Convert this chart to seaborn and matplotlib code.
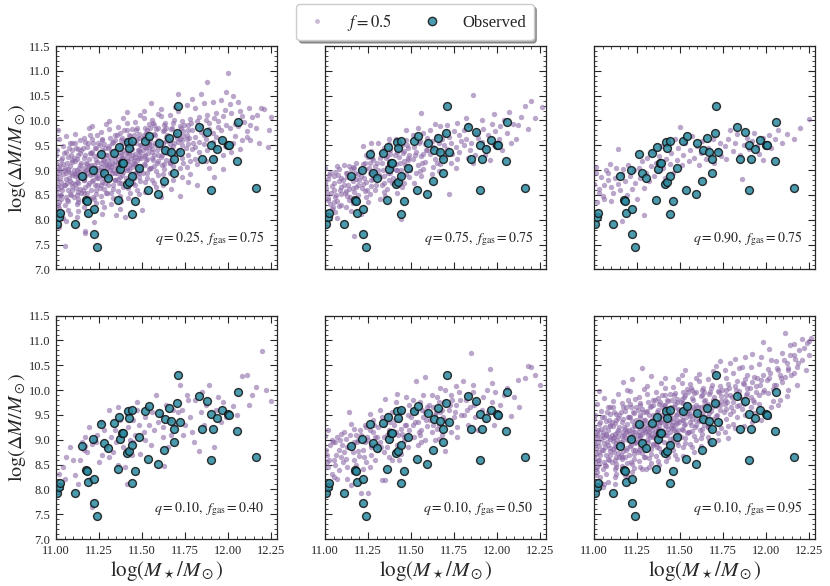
import numpy as np
import pandas as pd
import matplotlib
matplotlib.use("Agg")
import matplotlib.pyplot as plt
from matplotlib.lines import Line2D
from matplotlib.ticker import MultipleLocator, FormatStrFormatter
import seaborn as sns

# observed sample (same in every panel)
obs_x = [11.006, 11.020, 11.023, 11.109, 11.153, 11.176, 11.182, 11.186, 11.217, 11.223,
         11.219, 11.240, 11.262, 11.279, 11.304, 11.339, 11.368, 11.360, 11.374, 11.386,
         11.390, 11.417, 11.426, 11.444, 11.415, 11.426, 11.442, 11.459, 11.442, 11.483,
         11.517, 11.543, 11.535, 11.591, 11.597, 11.632, 11.626, 11.659, 11.671, 11.688,
         11.686, 11.705, 11.709, 11.721, 11.829, 11.849, 11.876, 11.901, 11.901, 11.911,
         11.938, 11.963, 11.998, 12.008, 12.052, 12.058, 12.165]
obs_y = [7.92, 8.05, 8.13, 7.92, 8.875, 8.39, 8.37, 8.14, 9.01, 8.21,
         7.72, 7.455, 9.32, 8.94, 8.84, 9.34, 9.46, 8.40, 9.015, 9.14,
         9.14, 9.57, 9.44, 9.59, 8.73, 8.77, 8.89, 8.37, 8.12, 9.05,
         9.58, 9.68, 8.61, 8.51, 9.54, 9.41, 8.79, 9.64, 9.37, 9.22,
         8.95, 9.74, 10.30, 9.36, 9.87, 9.22, 9.77, 8.60, 9.51, 9.22,
         9.43, 9.60, 9.51, 9.50, 9.18, 9.97, 8.65]

# simulated points
sim_q025_fgas075 = [
    (11.01, 8.62), (11.02, 8.95), (11.00, 9.31), (11.03, 8.41), (11.04, 9.12), (11.01, 8.18), (11.02, 7.86), (11.03, 8.77),
    (11.04, 9.48), (11.00, 8.55), (11.02, 9.05), (11.01, 8.30), (11.03, 9.21), (11.04, 8.03), (11.00, 8.88), (11.02, 9.62),
    (11.01, 8.71), (11.03, 8.49), (11.04, 8.92), (11.01, 9.80), (11.02, 8.24), (11.00, 9.15), (11.03, 8.66), (11.05, 7.47),
    (11.06, 8.83), (11.07, 9.02), (11.08, 8.51), (11.06, 9.36), (11.09, 8.68), (11.07, 8.20), (11.08, 9.55), (11.06, 8.95),
    (11.09, 9.17), (11.07, 8.37), (11.08, 8.79), (11.06, 7.98), (11.09, 9.41), (11.07, 8.60), (11.08, 9.09), (11.06, 8.46),
    (11.09, 8.91), (11.07, 9.27), (11.08, 8.12), (11.06, 9.68), (11.09, 8.74), (11.07, 8.99),
    (11.11, 8.88), (11.12, 9.23), (11.13, 8.56), (11.11, 9.73), (11.14, 8.97), (11.12, 8.31), (11.13, 9.42), (11.11, 8.72),
    (11.14, 9.10), (11.12, 8.05), (11.13, 8.84), (11.11, 9.55), (11.14, 8.63), (11.12, 9.01), (11.13, 8.42), (11.11, 9.18),
    (11.14, 9.34), (11.12, 8.77), (11.13, 8.18), (11.11, 8.93), (11.14, 9.61), (11.12, 8.50),
    (11.16, 9.05), (11.17, 8.67), (11.18, 9.47), (11.16, 8.38), (11.19, 9.22), (11.17, 8.89), (11.18, 8.11), (11.16, 9.64),
    (11.19, 8.74), (11.17, 9.31), (11.18, 8.55), (11.16, 8.97), (11.19, 9.85), (11.17, 7.78), (11.18, 9.12), (11.16, 8.81),
    (11.19, 8.44), (11.17, 9.56), (11.18, 8.95), (11.16, 8.26), (11.19, 9.08), (11.17, 7.74),
    (11.21, 8.93), (11.22, 9.28), (11.23, 8.61), (11.21, 9.62), (11.24, 9.05), (11.22, 8.42), (11.23, 9.44), (11.21, 8.78),
    (11.24, 9.17), (11.22, 8.19), (11.23, 8.88), (11.21, 9.88), (11.24, 8.70), (11.22, 9.11), (11.23, 8.52), (11.21, 9.36),
    (11.24, 9.71), (11.22, 8.97), (11.23, 8.33), (11.21, 9.02), (11.24, 8.84), (11.22, 7.95),
    (11.26, 9.14), (11.27, 8.76), (11.28, 9.52), (11.26, 8.47), (11.29, 9.30), (11.27, 8.99), (11.28, 8.26), (11.26, 9.76),
    (11.29, 8.87), (11.27, 9.40), (11.28, 8.63), (11.26, 9.06), (11.29, 9.92), (11.27, 8.35), (11.28, 9.21), (11.26, 8.91),
    (11.29, 8.55), (11.27, 9.63), (11.28, 9.01), (11.26, 8.70), (11.29, 9.12), (11.27, 8.12),
    (11.31, 9.08), (11.32, 9.39), (11.33, 8.71), (11.31, 9.82), (11.34, 9.18), (11.32, 8.53), (11.33, 9.57), (11.31, 8.89),
    (11.34, 9.29), (11.32, 8.32), (11.33, 9.00), (11.31, 9.99), (11.34, 8.81), (11.32, 9.24), (11.33, 8.62), (11.31, 9.48),
    (11.34, 9.70), (11.32, 9.06), (11.33, 8.43), (11.31, 9.13), (11.34, 8.95), (11.35, 8.09),
    (11.36, 9.22), (11.37, 8.86), (11.38, 9.61), (11.36, 8.58), (11.39, 9.40), (11.37, 9.09), (11.38, 8.38), (11.36, 9.86),
    (11.39, 8.97), (11.37, 9.50), (11.38, 8.74), (11.36, 9.15), (11.39, 10.05), (11.37, 8.47), (11.38, 9.30), (11.36, 9.01),
    (11.39, 8.66), (11.37, 9.74), (11.38, 9.12), (11.36, 8.82), (11.39, 9.25), (11.37, 8.21),
    (11.41, 9.19), (11.42, 9.52), (11.43, 8.83), (11.41, 9.94), (11.44, 9.31), (11.42, 8.64), (11.43, 9.68), (11.41, 9.00),
    (11.44, 9.42), (11.42, 8.44), (11.43, 9.11), (11.41, 10.18), (11.44, 8.92), (11.42, 9.36), (11.43, 8.72), (11.41, 9.60),
    (11.44, 9.82), (11.42, 9.18), (11.43, 8.55), (11.41, 9.27), (11.44, 9.06), (11.40, 8.05),
    (11.46, 9.33), (11.47, 8.97), (11.48, 9.72), (11.46, 8.70), (11.49, 9.51), (11.47, 9.20), (11.48, 8.51), (11.46, 9.97),
    (11.49, 9.09), (11.47, 9.62), (11.48, 8.86), (11.46, 9.26), (11.49, 10.12), (11.47, 8.60), (11.48, 9.41), (11.46, 9.13),
    (11.49, 8.79), (11.47, 9.84), (11.48, 9.24), (11.46, 8.94), (11.49, 9.37),
    (11.51, 9.29), (11.52, 9.63), (11.53, 8.94), (11.51, 10.05), (11.54, 9.44), (11.52, 8.76), (11.53, 9.80), (11.51, 9.12),
    (11.54, 9.53), (11.52, 8.57), (11.53, 9.22), (11.51, 10.20), (11.54, 9.03), (11.52, 9.47), (11.53, 8.84), (11.51, 9.71),
    (11.54, 9.92), (11.52, 9.30), (11.50, 8.20), (11.55, 10.35),
    (11.56, 9.42), (11.57, 9.08), (11.58, 9.83), (11.56, 8.81), (11.59, 9.60), (11.57, 9.31), (11.58, 8.66), (11.56, 10.02),
    (11.59, 9.19), (11.57, 9.73), (11.58, 8.98), (11.56, 9.37), (11.59, 10.14), (11.57, 8.75), (11.58, 9.51), (11.56, 9.25),
    (11.59, 8.90), (11.57, 9.91),
    (11.61, 9.46), (11.62, 9.78), (11.63, 9.12), (11.61, 10.09), (11.64, 9.58), (11.62, 8.93), (11.63, 9.90), (11.61, 9.27),
    (11.64, 9.67), (11.62, 8.71), (11.63, 9.38), (11.61, 10.23), (11.64, 9.20), (11.62, 9.55), (11.63, 9.02), (11.61, 8.45),
    (11.64, 9.85),
    (11.66, 9.52), (11.67, 9.21), (11.68, 9.94), (11.66, 8.95), (11.69, 9.70), (11.67, 9.43), (11.68, 8.80), (11.66, 10.12),
    (11.69, 9.32), (11.67, 9.82), (11.68, 9.09), (11.66, 9.61), (11.69, 10.28), (11.67, 8.62), (11.68, 9.48), (11.66, 9.15),
    (11.71, 9.57), (11.72, 9.89), (11.73, 9.25), (11.71, 10.20), (11.74, 9.68), (11.72, 9.04), (11.73, 9.99), (11.71, 9.38),
    (11.74, 9.78), (11.72, 8.47), (11.73, 9.50), (11.71, 10.54), (11.74, 9.14), (11.72, 9.62), (11.73, 8.87),
    (11.76, 9.62), (11.77, 9.31), (11.78, 10.03), (11.76, 9.06), (11.79, 9.80), (11.77, 9.52), (11.78, 8.93), (11.76, 10.31),
    (11.79, 9.42), (11.77, 9.91), (11.78, 9.18), (11.76, 9.70), (11.79, 10.44), (11.77, 8.76),
    (11.81, 9.66), (11.82, 9.98), (11.83, 9.36), (11.81, 10.25), (11.84, 9.77), (11.82, 9.13), (11.83, 10.08), (11.81, 9.47),
    (11.84, 9.88), (11.82, 8.70), (11.83, 9.57), (11.84, 10.54), (11.81, 9.22),
    (11.86, 9.71), (11.87, 10.02), (11.88, 9.40), (11.86, 10.36), (11.89, 9.83), (11.87, 9.18), (11.88, 10.12), (11.86, 9.52),
    (11.89, 9.95), (11.88, 10.77), (11.87, 9.62), (11.89, 9.05),
    (11.91, 9.75), (11.92, 10.06), (11.93, 9.44), (11.91, 10.37), (11.94, 9.86), (11.92, 9.25), (11.93, 10.16), (11.91, 9.56),
    (11.94, 9.98), (11.92, 8.87), (11.93, 9.66),
    (11.96, 9.80), (11.97, 10.10), (11.98, 9.48), (11.96, 10.42), (11.99, 9.90), (11.97, 9.30), (11.98, 10.21), (11.96, 9.61),
    (11.99, 10.57), (11.97, 9.02),
    (12.01, 9.84), (12.00, 10.96), (12.02, 10.15), (12.03, 9.55), (12.01, 10.33), (12.04, 9.93), (12.02, 9.36), (12.03, 10.50),
    (12.04, 9.68), (12.06, 9.88), (12.07, 10.20), (12.08, 9.60), (12.06, 10.38), (12.09, 9.97), (12.07, 9.42), (12.08, 10.10),
    (12.11, 9.67), (12.12, 10.25), (12.13, 9.90), (12.14, 10.07), (12.11, 9.78), (12.13, 9.61),
    (12.16, 9.85), (12.17, 10.12), (12.18, 9.55), (12.19, 10.25), (12.21, 10.23), (12.23, 9.47), (12.25, 10.08), (12.24, 9.80),
    # dense core
    (11.005, 8.80), (11.015, 9.00), (11.025, 8.50), (11.035, 9.25), (11.045, 8.70), (11.005, 9.40), (11.015, 8.35),
    (11.025, 9.10), (11.035, 8.60), (11.045, 9.00), (11.005, 8.45), (11.025, 8.85), (11.045, 9.35), (11.035, 8.15),
    (11.055, 8.70), (11.065, 9.15), (11.075, 8.85), (11.085, 9.30), (11.095, 8.60), (11.055, 9.05), (11.065, 8.40),
    (11.075, 9.45), (11.085, 8.95), (11.095, 9.20), (11.065, 8.75), (11.085, 8.50), (11.055, 8.30), (11.095, 9.55),
    (11.105, 9.00), (11.115, 8.65), (11.125, 9.30), (11.135, 8.90), (11.145, 9.15), (11.105, 8.45), (11.115, 9.45),
    (11.125, 8.75), (11.135, 9.05), (11.145, 8.55), (11.105, 9.25), (11.125, 8.35), (11.145, 9.40), (11.115, 8.95),
    (11.155, 8.85), (11.165, 9.25), (11.175, 9.00), (11.185, 8.70), (11.195, 9.35), (11.155, 9.45), (11.165, 8.55),
    (11.175, 9.15), (11.185, 9.55), (11.195, 8.90), (11.165, 8.80), (11.185, 9.05), (11.155, 8.60), (11.195, 9.70),
    (11.205, 9.10), (11.215, 8.80), (11.225, 9.45), (11.235, 8.95), (11.245, 9.30), (11.205, 8.60), (11.215, 9.55),
    (11.225, 8.70), (11.235, 9.20), (11.245, 8.85), (11.205, 9.35), (11.225, 9.05), (11.245, 9.55), (11.215, 8.45),
    (11.255, 9.00), (11.265, 9.35), (11.275, 8.85), (11.285, 9.45), (11.295, 9.05), (11.255, 8.65), (11.265, 9.60),
    (11.275, 9.20), (11.285, 8.75), (11.295, 9.30), (11.265, 8.95), (11.285, 9.10), (11.255, 9.50), (11.295, 8.55),
    (11.305, 9.20), (11.315, 8.85), (11.325, 9.55), (11.335, 9.10), (11.345, 9.40), (11.305, 8.70), (11.315, 9.65),
    (11.325, 8.95), (11.335, 9.30), (11.345, 8.80), (11.305, 9.45), (11.325, 9.15), (11.345, 9.60), (11.315, 9.00),
    (11.355, 9.05), (11.365, 9.45), (11.375, 9.20), (11.385, 8.90), (11.395, 9.55), (11.355, 9.70), (11.365, 8.75),
    (11.375, 9.35), (11.385, 9.65), (11.395, 9.10), (11.365, 9.00), (11.385, 9.25), (11.355, 8.95), (11.395, 9.80),
    (11.405, 9.35), (11.415, 9.05), (11.425, 9.70), (11.435, 9.25), (11.445, 9.55), (11.405, 8.85), (11.415, 9.80),
    (11.425, 9.00), (11.435, 9.45), (11.445, 9.15), (11.405, 9.60), (11.425, 9.35), (11.445, 8.75), (11.415, 9.50),
    (11.455, 9.20), (11.465, 9.55), (11.475, 9.05), (11.485, 9.65), (11.495, 9.25), (11.455, 8.85), (11.465, 9.80),
    (11.475, 9.40), (11.485, 8.95), (11.495, 9.50), (11.465, 9.10), (11.485, 9.30), (11.455, 9.70), (11.495, 9.00),
    (11.505, 9.40), (11.515, 9.10), (11.525, 9.75), (11.535, 9.35), (11.545, 9.60), (11.505, 8.95), (11.515, 9.85),
    (11.525, 9.20), (11.535, 9.55), (11.545, 9.05), (11.505, 9.65), (11.525, 9.45), (11.545, 9.85),
    (11.555, 9.50), (11.565, 9.20), (11.575, 9.70), (11.585, 9.40), (11.595, 9.85), (11.555, 9.05), (11.575, 9.55),
    (11.595, 9.30), (11.565, 9.95), (11.585, 9.15),
    (11.605, 9.55), (11.615, 9.30), (11.625, 9.80), (11.635, 9.45), (11.645, 9.70), (11.615, 9.10), (11.635, 9.95),
    (11.645, 9.35), (11.655, 9.60), (11.665, 9.35), (11.675, 9.85), (11.685, 9.55), (11.695, 9.75), (11.665, 9.15),
    (11.685, 10.00), (11.705, 9.65), (11.715, 9.40), (11.725, 9.85), (11.735, 9.60), (11.745, 9.90), (11.755, 9.45),
    (11.765, 9.80), (11.775, 9.65), (11.785, 9.95), (11.795, 9.55),
]

sim_q075_fgas075 = [
    (11.01, 8.55), (11.02, 8.83), (11.00, 9.05), (11.03, 8.32), (11.04, 8.68), (11.01, 8.12), (11.02, 8.44), (11.03, 8.95),
    (11.04, 8.21), (11.00, 8.74), (11.05, 8.60), (11.06, 8.97), (11.07, 8.38), (11.08, 8.79), (11.06, 8.15), (11.09, 8.52),
    (11.07, 9.08), (11.08, 8.27), (11.05, 8.89), (11.09, 8.66), (11.06, 8.46), (11.08, 9.02), (11.07, 8.03), (11.09, 8.85),
    (11.05, 8.36),
    (11.11, 8.71), (11.12, 8.95), (11.13, 8.48), (11.11, 9.10), (11.14, 8.62), (11.12, 8.25), (11.13, 8.86), (11.15, 9.02),
    (11.14, 8.40), (11.16, 8.78), (11.17, 8.57), (11.18, 9.15), (11.16, 8.33), (11.19, 8.92), (11.17, 9.04), (11.18, 8.66),
    (11.15, 8.18), (11.19, 8.49), (11.17, 7.67), (11.16, 9.06), (11.18, 8.82), (11.12, 8.58), (11.19, 8.70), (11.14, 9.08),
    (11.21, 8.88), (11.22, 9.12), (11.23, 8.59), (11.22, 9.49), (11.24, 8.76), (11.21, 8.12), (11.23, 9.02), (11.25, 9.27),
    (11.24, 8.45), (11.26, 8.94), (11.27, 8.68), (11.28, 9.20), (11.26, 8.51), (11.29, 9.08), (11.27, 9.38), (11.28, 8.83),
    (11.25, 8.35), (11.29, 8.61), (11.27, 9.55), (11.26, 9.15), (11.28, 8.99), (11.22, 8.73), (11.29, 8.90), (11.24, 9.31),
    (11.31, 9.00), (11.32, 9.25), (11.33, 8.70), (11.31, 9.55), (11.34, 8.88), (11.32, 8.42), (11.33, 9.14), (11.35, 9.40),
    (11.34, 8.56), (11.36, 9.06), (11.37, 8.80), (11.38, 9.33), (11.36, 8.62), (11.39, 9.19), (11.37, 9.52), (11.38, 8.95),
    (11.35, 8.48), (11.39, 8.74), (11.37, 9.62), (11.36, 9.28), (11.38, 9.10), (11.32, 8.86), (11.39, 9.02), (11.34, 9.45),
    (11.41, 9.12), (11.42, 9.36), (11.43, 8.82), (11.41, 9.62), (11.44, 9.00), (11.42, 8.54), (11.43, 9.26), (11.45, 9.50),
    (11.44, 8.02), (11.46, 9.18), (11.47, 8.92), (11.48, 9.44), (11.46, 8.74), (11.49, 9.30), (11.47, 9.81), (11.48, 9.06),
    (11.45, 8.66), (11.49, 8.86), (11.47, 9.60), (11.46, 9.38), (11.48, 9.21), (11.42, 9.00),
    (11.51, 9.22), (11.52, 9.46), (11.53, 8.95), (11.51, 9.70), (11.54, 9.10), (11.52, 8.75), (11.53, 9.36), (11.56, 10.16),
    (11.55, 9.58), (11.56, 9.28), (11.57, 9.02), (11.58, 9.52), (11.56, 8.88), (11.59, 9.40), (11.57, 9.75), (11.58, 9.16),
    (11.55, 8.98), (11.59, 9.64), (11.54, 9.85), (11.57, 9.33),
    (11.61, 9.32), (11.62, 9.58), (11.63, 9.06), (11.61, 9.80), (11.64, 9.22), (11.62, 8.92), (11.63, 9.46), (11.65, 9.68),
    (11.66, 9.38), (11.67, 9.12), (11.68, 9.62), (11.66, 8.98), (11.69, 9.50), (11.67, 9.88), (11.68, 9.26), (11.65, 9.15),
    (11.69, 9.72), (11.64, 9.92),
    (11.71, 9.42), (11.72, 9.66), (11.73, 9.15), (11.71, 9.90), (11.74, 9.32), (11.72, 8.52), (11.73, 9.55), (11.75, 9.78),
    (11.76, 9.46), (11.77, 9.22), (11.78, 9.70), (11.76, 9.05), (11.79, 9.58), (11.77, 9.95), (11.78, 9.36),
    (11.81, 9.50), (11.82, 10.06), (11.83, 9.25), (11.81, 9.80), (11.84, 9.40), (11.82, 9.62), (11.83, 9.90), (11.85, 9.55),
    (11.86, 10.51), (11.87, 9.30), (11.88, 9.75), (11.86, 9.14), (11.89, 9.65),
    (11.91, 9.56), (11.92, 9.82), (11.93, 9.30), (11.91, 10.00), (11.94, 9.45), (11.95, 9.70), (11.96, 9.20), (11.97, 9.92),
    (11.98, 10.14), (11.98, 9.50), (11.99, 9.78),
    (12.01, 9.62), (12.02, 9.88), (12.03, 9.40), (12.04, 10.02), (12.06, 9.75), (12.07, 10.17), (12.08, 9.55), (12.09, 9.92),
    (12.11, 9.63), (12.12, 9.90), (12.14, 10.08), (12.16, 10.30), (12.18, 9.82), (12.20, 10.40), (12.22, 10.05), (12.26, 10.28),
    (11.005, 8.65), (11.015, 8.40), (11.025, 8.90), (11.035, 8.55), (11.045, 8.25), (11.055, 8.75), (11.065, 8.50),
    (11.075, 8.90), (11.085, 8.60), (11.095, 8.30), (11.105, 8.80), (11.115, 8.55), (11.125, 8.95), (11.135, 8.70),
    (11.145, 8.45), (11.155, 8.85), (11.165, 8.65), (11.175, 8.95), (11.185, 8.40), (11.195, 8.80), (11.205, 9.00),
    (11.215, 8.65), (11.225, 8.85), (11.235, 9.15), (11.245, 8.60), (11.255, 9.05), (11.265, 8.80), (11.275, 9.25),
    (11.285, 8.95), (11.295, 8.70), (11.305, 9.15), (11.315, 8.90), (11.325, 9.35), (11.335, 9.00), (11.345, 8.75),
    (11.355, 9.25), (11.365, 8.95), (11.375, 9.40), (11.385, 9.05), (11.395, 8.85), (11.405, 9.30), (11.415, 9.00),
    (11.425, 9.45), (11.435, 9.15), (11.445, 8.90), (11.455, 9.35), (11.465, 9.10), (11.475, 9.50), (11.485, 9.25),
    (11.495, 9.00), (11.525, 9.30), (11.545, 9.55), (11.565, 9.15), (11.585, 9.40), (11.625, 9.45), (11.665, 9.55),
    (11.705, 9.30),
]

sim_q090_fgas075 = [
    (11.01, 9.06), (11.00, 8.72), (11.02, 8.36), (11.03, 8.55), (11.04, 8.86), (11.01, 8.95), (11.05, 8.48), (11.06, 8.70),
    (11.07, 9.00), (11.03, 8.62), (11.08, 8.80), (11.09, 9.13), (11.06, 8.42), (11.10, 8.66), (11.08, 8.95), (11.11, 8.55),
    (11.12, 8.85), (11.13, 9.05), (11.10, 8.38), (11.14, 9.43), (11.14, 8.72), (11.15, 8.60), (11.16, 7.97), (11.16, 8.92),
    (11.17, 9.02), (11.18, 8.78), (11.19, 8.50), (11.20, 9.10), (11.21, 8.88), (11.22, 8.62), (11.23, 9.00), (11.24, 8.75),
    (11.25, 8.42), (11.26, 9.05), (11.27, 8.85), (11.28, 9.18), (11.29, 8.09), (11.29, 8.65), (11.30, 8.95), (11.31, 9.25),
    (11.32, 8.78), (11.33, 9.08), (11.34, 9.38), (11.35, 8.88), (11.36, 9.15), (11.37, 8.98), (11.38, 9.28), (11.39, 9.48),
    (11.40, 9.05), (11.41, 8.85), (11.42, 9.22), (11.43, 9.55), (11.44, 9.12), (11.45, 9.35), (11.46, 8.95), (11.47, 9.62),
    (11.48, 9.20), (11.49, 9.45), (11.50, 9.87), (11.51, 9.10), (11.52, 9.30), (11.53, 9.55), (11.55, 9.18), (11.56, 9.40),
    (11.57, 9.68), (11.58, 9.25), (11.60, 9.48), (11.61, 9.10), (11.62, 9.35), (11.63, 9.58), (11.65, 9.22), (11.66, 9.45),
    (11.68, 9.30), (11.69, 9.62), (11.70, 9.15), (11.72, 9.40), (11.73, 9.55), (11.74, 9.28), (11.76, 9.48), (11.77, 9.22),
    (11.78, 9.62), (11.79, 9.80), (11.81, 9.38), (11.82, 9.55), (11.83, 9.72), (11.85, 9.30), (11.86, 8.83), (11.87, 9.50),
    (11.89, 9.65), (11.90, 9.42), (11.92, 9.58), (11.93, 9.75), (11.95, 9.48), (11.96, 9.32), (11.98, 9.20), (11.98, 9.65),
    (12.00, 9.52), (12.02, 9.70), (12.03, 9.45), (12.05, 9.63), (12.07, 9.80), (12.09, 9.55), (12.12, 9.72), (12.16, 9.62),
    (12.20, 9.85), (12.25, 10.04),
]

sim_q010_fgas040 = [
    (11.00, 8.10), (11.01, 7.95), (11.02, 8.30), (11.03, 8.10), (11.04, 8.45), (11.06, 8.65), (11.08, 8.85), (11.05, 8.20),
    (11.11, 8.29), (11.10, 8.60), (11.14, 8.59), (11.17, 9.06), (11.19, 9.26), (11.17, 8.87), (11.21, 8.91), (11.15, 8.95),
    (11.13, 8.10), (11.18, 8.75), (11.20, 8.20), (11.16, 8.80), (11.22, 9.00), (11.23, 8.95), (11.24, 9.10), (11.25, 8.55),
    (11.26, 9.35), (11.27, 8.70), (11.28, 9.20), (11.29, 8.85), (11.21, 7.64), (11.31, 9.59), (11.36, 9.66), (11.32, 9.05),
    (11.33, 8.75), (11.34, 9.20), (11.35, 8.95), (11.37, 9.40), (11.38, 9.15), (11.39, 8.85), (11.31, 8.65), (11.36, 8.50),
    (11.41, 9.52), (11.40, 8.45), (11.42, 9.25), (11.43, 9.00), (11.44, 8.70), (11.45, 9.40), (11.46, 9.10), (11.47, 9.60),
    (11.48, 9.30), (11.49, 8.72), (11.41, 8.10), (11.45, 8.95), (11.47, 9.75), (11.51, 9.15), (11.52, 9.45), (11.53, 9.65),
    (11.54, 9.30), (11.55, 8.90), (11.56, 9.55), (11.57, 9.20), (11.58, 9.90), (11.59, 9.35), (11.52, 9.00), (11.61, 9.50),
    (11.62, 9.25), (11.63, 8.48), (11.64, 9.70), (11.65, 8.85), (11.66, 9.40), (11.67, 9.10), (11.68, 9.60), (11.69, 9.30),
    (11.62, 9.05), (11.72, 10.10), (11.74, 9.09), (11.76, 9.89), (11.77, 9.80), (11.78, 9.45), (11.73, 9.60), (11.75, 9.30),
    (11.79, 9.15), (11.71, 9.55), (11.81, 9.79), (11.80, 8.95), (11.83, 8.77), (11.84, 9.55), (11.86, 9.30), (11.89, 10.11),
    (11.87, 9.70), (11.85, 9.95), (11.92, 8.85), (11.94, 9.85), (11.99, 9.46), (11.93, 9.60), (11.96, 9.35), (11.97, 9.75),
    (12.03, 9.67), (12.08, 10.28), (12.11, 10.31), (12.12, 9.69), (12.16, 10.06), (12.20, 10.78), (12.25, 9.77), (12.05, 9.50),
    (12.14, 9.90), (12.22, 10.00),
]

sim_q010_fgas050 = [
    (11.00, 9.08), (11.01, 8.70), (11.02, 8.45), (11.03, 8.90), (11.04, 8.30), (11.02, 9.20), (11.05, 8.60), (11.06, 8.95),
    (11.07, 8.20), (11.05, 8.25), (11.08, 8.80), (11.09, 9.12), (11.06, 8.50), (11.08, 8.38), (11.09, 8.66), (11.07, 9.05),
    (11.03, 8.12), (11.04, 9.00), (11.01, 8.55), (11.10, 8.90),
    (11.11, 8.75), (11.12, 9.02), (11.13, 8.45), (11.14, 9.55), (11.15, 9.32), (11.13, 8.20), (11.16, 8.90), (11.17, 8.60),
    (11.18, 9.10), (11.16, 8.35), (11.19, 8.78), (11.17, 9.22), (11.18, 8.50), (11.19, 9.00), (11.12, 8.62), (11.15, 8.08),
    (11.14, 8.85), (11.11, 9.15), (11.20, 8.68), (11.17, 8.95),
    (11.21, 9.10), (11.22, 8.80), (11.23, 9.30), (11.21, 7.92), (11.25, 7.92), (11.24, 8.55), (11.23, 8.95), (11.26, 9.20),
    (11.27, 8.70), (11.28, 9.40), (11.26, 8.45), (11.29, 9.05), (11.27, 8.85), (11.28, 9.15), (11.25, 9.00), (11.29, 8.60),
    (11.22, 8.40), (11.24, 9.25), (11.30, 8.90), (11.26, 9.52),
    (11.31, 9.25), (11.32, 8.95), (11.33, 9.45), (11.33, 8.18), (11.35, 8.18), (11.35, 9.82), (11.34, 8.75), (11.36, 9.10),
    (11.37, 8.65), (11.38, 9.35), (11.36, 8.85), (11.39, 9.55), (11.37, 9.20), (11.38, 9.00), (11.31, 8.80), (11.39, 8.60),
    (11.32, 9.60), (11.34, 9.05), (11.40, 9.30), (11.36, 9.42),
    (11.42, 9.92), (11.41, 9.15), (11.42, 8.90), (11.43, 9.40), (11.44, 8.72), (11.45, 9.60), (11.46, 9.05), (11.47, 9.30),
    (11.48, 8.85), (11.49, 9.70), (11.47, 9.85), (11.46, 8.98), (11.44, 9.22), (11.48, 9.50), (11.41, 9.75), (11.43, 8.60),
    (11.45, 9.12), (11.49, 9.20), (11.50, 9.45),
    (11.53, 10.18), (11.58, 10.26), (11.51, 9.30), (11.52, 9.05), (11.53, 9.55), (11.54, 8.90), (11.55, 9.75), (11.56, 9.20),
    (11.57, 9.45), (11.58, 9.00), (11.59, 9.65), (11.57, 9.90), (11.56, 8.95), (11.54, 9.35), (11.58, 9.55), (11.51, 9.80),
    (11.55, 9.10), (11.59, 9.28),
    (11.61, 9.40), (11.62, 9.15), (11.63, 9.65), (11.64, 9.00), (11.65, 9.85), (11.66, 9.30), (11.67, 9.55), (11.68, 9.10),
    (11.69, 9.75), (11.67, 10.05), (11.66, 9.02), (11.64, 9.50), (11.68, 9.60), (11.62, 9.90), (11.65, 9.22), (11.69, 9.40),
    (11.70, 10.00), (11.70, 8.78), (11.71, 9.35), (11.72, 9.60), (11.73, 9.15), (11.74, 9.80), (11.75, 9.45), (11.76, 9.70),
    (11.77, 9.25), (11.78, 9.95), (11.79, 9.50), (11.77, 9.05), (11.73, 9.90), (11.76, 10.08),
    (11.85, 10.75), (11.80, 10.19), (11.81, 9.50), (11.82, 9.80), (11.83, 9.30), (11.84, 9.65), (11.86, 9.95), (11.87, 9.45),
    (11.88, 9.75), (11.89, 9.20), (11.86, 10.10), (11.83, 9.90),
    (11.96, 10.42), (11.91, 9.60), (11.92, 9.85), (11.93, 9.40), (11.94, 10.00), (11.95, 9.55), (11.97, 9.75), (11.98, 9.30),
    (11.99, 9.95), (11.97, 10.15),
    (12.08, 9.48), (12.13, 9.65), (12.12, 10.20), (12.16, 10.24), (12.18, 10.49), (12.20, 10.47), (12.02, 9.70), (12.04, 9.90),
    (12.06, 10.05), (12.10, 9.85), (12.22, 10.30), (12.25, 10.10), (12.01, 9.45),
    (11.005, 8.80), (11.025, 8.60), (11.045, 8.95), (11.065, 8.70), (11.085, 9.00), (11.105, 8.55), (11.125, 8.85),
    (11.145, 9.10), (11.165, 8.75), (11.185, 8.95), (11.205, 9.20), (11.225, 8.65), (11.245, 9.05), (11.265, 8.90),
    (11.285, 9.30), (11.305, 9.05), (11.325, 8.85), (11.345, 9.30), (11.365, 9.50), (11.385, 9.15), (11.405, 9.40),
    (11.425, 9.10), (11.445, 9.55), (11.465, 9.30), (11.485, 9.05), (11.505, 9.60), (11.525, 9.35), (11.545, 9.15),
    (11.565, 9.60), (11.585, 9.40), (11.605, 9.70), (11.625, 9.30), (11.645, 9.55), (11.665, 9.75), (11.685, 9.45),
    (11.725, 9.70), (11.755, 9.55), (11.785, 9.80), (11.825, 9.60), (11.865, 9.70),
]

sim_q010_fgas095 = [
    (11.01, 8.72), (11.02, 9.05), (11.00, 9.41), (11.03, 8.51), (11.04, 9.22), (11.01, 8.28), (11.02, 8.06), (11.03, 8.87),
    (11.04, 9.58), (11.00, 8.65), (11.02, 9.15), (11.01, 8.40), (11.03, 9.31), (11.04, 8.13), (11.00, 8.98), (11.02, 9.72),
    (11.01, 8.81), (11.03, 8.59), (11.04, 9.02), (11.03, 9.98), (11.02, 8.34), (11.00, 9.25), (11.03, 8.76), (11.05, 8.05),
    (11.06, 8.93), (11.07, 9.12), (11.08, 8.61), (11.06, 9.46), (11.09, 8.78), (11.07, 8.30), (11.08, 9.65), (11.06, 9.05),
    (11.09, 9.27), (11.07, 8.47), (11.08, 8.89), (11.06, 8.10), (11.09, 9.51), (11.07, 8.70), (11.08, 9.19), (11.06, 8.56),
    (11.09, 9.01), (11.07, 9.37), (11.08, 8.15), (11.06, 9.83), (11.09, 8.84), (11.07, 9.09),
    (11.11, 8.98), (11.12, 9.33), (11.13, 8.66), (11.11, 9.78), (11.14, 9.07), (11.12, 8.41), (11.13, 9.52), (11.11, 8.82),
    (11.14, 9.20), (11.12, 8.25), (11.13, 8.94), (11.11, 9.65), (11.14, 8.73), (11.12, 9.11), (11.13, 8.52), (11.11, 9.28),
    (11.14, 9.44), (11.12, 8.87), (11.13, 8.31), (11.11, 9.03), (11.14, 9.92), (11.12, 8.60), (11.12, 8.10),
    (11.16, 9.15), (11.17, 8.77), (11.18, 9.57), (11.16, 8.48), (11.19, 9.32), (11.17, 8.99), (11.18, 8.28), (11.16, 9.74),
    (11.19, 8.84), (11.17, 9.41), (11.18, 8.65), (11.16, 9.07), (11.19, 10.01), (11.17, 8.35), (11.18, 9.22), (11.16, 8.91),
    (11.19, 8.54), (11.17, 9.66), (11.18, 9.05), (11.16, 8.62), (11.19, 9.18), (11.17, 10.17),
    (11.21, 9.03), (11.22, 9.38), (11.23, 8.71), (11.21, 9.72), (11.24, 9.15), (11.22, 8.52), (11.23, 9.54), (11.21, 8.88),
    (11.24, 9.27), (11.22, 8.34), (11.23, 8.98), (11.21, 9.98), (11.24, 8.80), (11.22, 9.21), (11.23, 8.62), (11.21, 9.46),
    (11.24, 9.81), (11.22, 9.07), (11.23, 8.43), (11.21, 9.12), (11.24, 8.94), (11.22, 10.22), (11.20, 8.25),
    (11.26, 9.24), (11.27, 8.86), (11.28, 9.62), (11.26, 8.57), (11.29, 9.40), (11.27, 9.09), (11.28, 8.40), (11.26, 9.86),
    (11.29, 8.97), (11.27, 9.50), (11.28, 8.73), (11.26, 9.16), (11.29, 10.02), (11.27, 8.45), (11.28, 9.31), (11.26, 9.01),
    (11.29, 8.65), (11.27, 9.73), (11.28, 9.11), (11.26, 8.80), (11.29, 9.22), (11.28, 10.44),
    (11.31, 9.18), (11.32, 9.49), (11.33, 8.81), (11.31, 9.92), (11.34, 9.28), (11.32, 8.63), (11.33, 9.67), (11.31, 8.99),
    (11.34, 9.39), (11.32, 8.45), (11.33, 9.10), (11.31, 10.09), (11.34, 8.91), (11.32, 9.34), (11.33, 8.72), (11.31, 9.58),
    (11.34, 9.80), (11.32, 9.16), (11.33, 8.53), (11.31, 9.23), (11.34, 9.05), (11.33, 10.28), (11.30, 8.40),
    (11.36, 9.32), (11.37, 8.96), (11.38, 9.71), (11.36, 8.68), (11.39, 9.50), (11.37, 9.19), (11.38, 8.50), (11.36, 9.96),
    (11.39, 9.07), (11.37, 9.60), (11.38, 8.84), (11.36, 9.25), (11.39, 10.15), (11.37, 8.57), (11.38, 9.40), (11.36, 9.11),
    (11.39, 8.76), (11.37, 9.84), (11.38, 9.22), (11.36, 8.92), (11.39, 9.35),
    (11.41, 9.29), (11.42, 9.62), (11.43, 8.93), (11.41, 10.04), (11.44, 9.41), (11.42, 8.74), (11.43, 9.78), (11.41, 9.10),
    (11.44, 9.52), (11.42, 8.58), (11.43, 9.21), (11.41, 10.24), (11.44, 9.02), (11.42, 9.46), (11.43, 8.82), (11.41, 9.70),
    (11.44, 9.92), (11.42, 9.28), (11.43, 8.66), (11.41, 9.37), (11.44, 9.16),
    (11.46, 9.43), (11.47, 9.07), (11.48, 9.82), (11.46, 8.80), (11.49, 9.61), (11.47, 9.30), (11.48, 8.62), (11.46, 10.07),
    (11.49, 9.19), (11.47, 9.72), (11.48, 8.96), (11.46, 9.36), (11.49, 10.22), (11.47, 8.70), (11.48, 9.51), (11.46, 9.23),
    (11.49, 8.89), (11.47, 9.94), (11.48, 9.34), (11.46, 9.04),
    (11.51, 9.39), (11.52, 9.73), (11.53, 9.04), (11.51, 10.15), (11.54, 9.54), (11.52, 8.86), (11.53, 9.90), (11.51, 9.22),
    (11.54, 9.63), (11.52, 8.68), (11.53, 9.32), (11.51, 10.30), (11.54, 9.13), (11.52, 9.57), (11.53, 8.94), (11.51, 9.81),
    (11.54, 10.02), (11.52, 9.40), (11.53, 10.40),
    (11.56, 9.52), (11.57, 9.18), (11.58, 9.93), (11.56, 8.91), (11.59, 9.70), (11.57, 9.41), (11.58, 8.76), (11.56, 10.12),
    (11.59, 9.29), (11.57, 9.83), (11.58, 9.08), (11.56, 9.47), (11.59, 10.24), (11.57, 8.85), (11.58, 9.61), (11.56, 9.35),
    (11.59, 9.00), (11.57, 10.01),
    (11.61, 9.56), (11.62, 9.88), (11.63, 9.22), (11.61, 10.19), (11.64, 9.68), (11.62, 9.03), (11.63, 10.00), (11.61, 9.37),
    (11.64, 9.77), (11.62, 8.88), (11.63, 9.48), (11.61, 10.33), (11.64, 9.30), (11.62, 9.65), (11.63, 9.12), (11.64, 9.95),
    (11.66, 9.62), (11.67, 9.31), (11.68, 10.04), (11.66, 9.05), (11.69, 9.80), (11.67, 9.53), (11.68, 8.92), (11.66, 10.22),
    (11.69, 9.42), (11.67, 9.92), (11.68, 9.19), (11.66, 9.71), (11.69, 10.38), (11.67, 8.98), (11.68, 9.58), (11.66, 9.25),
    (11.71, 9.67), (11.72, 9.99), (11.73, 9.35), (11.71, 10.30), (11.74, 9.78), (11.72, 9.14), (11.73, 10.09), (11.71, 9.48),
    (11.74, 9.88), (11.72, 9.00), (11.73, 9.60), (11.71, 10.48), (11.74, 9.24), (11.72, 9.72), (11.73, 10.58),
    (11.76, 9.72), (11.77, 9.41), (11.78, 10.13), (11.76, 9.16), (11.79, 9.90), (11.77, 9.62), (11.78, 9.03), (11.76, 10.41),
    (11.79, 9.52), (11.77, 10.01), (11.78, 9.28), (11.76, 9.80), (11.79, 10.54), (11.77, 10.24),
    (11.81, 9.76), (11.82, 10.08), (11.83, 9.46), (11.81, 10.35), (11.84, 9.87), (11.82, 9.23), (11.83, 10.18), (11.81, 9.57),
    (11.84, 9.98), (11.82, 10.62), (11.83, 9.67), (11.84, 10.45), (11.81, 9.32),
    (11.86, 9.81), (11.87, 10.12), (11.88, 9.50), (11.86, 10.46), (11.89, 9.93), (11.87, 9.28), (11.88, 10.22), (11.86, 9.62),
    (11.89, 10.05), (11.88, 10.67), (11.87, 9.72), (11.89, 10.30),
    (11.91, 9.85), (11.92, 10.16), (11.93, 9.54), (11.91, 10.47), (11.94, 9.96), (11.92, 9.35), (11.93, 10.26), (11.91, 9.66),
    (11.94, 10.08), (11.92, 10.72), (11.93, 9.76),
    (11.96, 9.90), (11.97, 10.20), (11.98, 9.58), (11.96, 10.52), (11.99, 10.00), (11.97, 9.40), (11.98, 10.31), (11.96, 9.71),
    (11.98, 10.97), (11.97, 10.66),
    (12.01, 9.94), (12.02, 10.25), (12.03, 9.65), (12.01, 10.43), (12.04, 10.03), (12.02, 9.46), (12.03, 10.60), (12.04, 9.78),
    (12.02, 10.82), (12.06, 10.10), (12.07, 10.40), (12.08, 9.80), (12.06, 10.58), (12.09, 10.17), (12.07, 9.70), (12.08, 10.30),
    (12.09, 10.75), (12.11, 10.27), (12.11, 11.15), (12.12, 10.55), (12.13, 10.00), (12.14, 10.71), (12.12, 9.88), (12.13, 10.40),
    (12.14, 10.90), (12.16, 10.35), (12.16, 10.92), (12.17, 10.62), (12.18, 10.10), (12.19, 10.80), (12.18, 10.47),
    (12.21, 10.60), (12.21, 11.02), (12.22, 10.85), (12.23, 10.40), (12.24, 10.95), (12.25, 10.70), (12.26, 11.04), (12.25, 10.98),
    # dense core
    (11.005, 8.90), (11.015, 9.10), (11.025, 8.60), (11.035, 9.35), (11.045, 8.80), (11.005, 9.50), (11.015, 8.45),
    (11.025, 9.20), (11.035, 8.70), (11.045, 9.10), (11.005, 8.55), (11.025, 8.95), (11.045, 9.45), (11.035, 8.25),
    (11.055, 8.80), (11.065, 9.25), (11.075, 8.95), (11.085, 9.40), (11.095, 8.70), (11.055, 9.15), (11.065, 8.50),
    (11.075, 9.55), (11.085, 9.05), (11.095, 9.30), (11.065, 8.85), (11.085, 8.60), (11.055, 8.40), (11.095, 9.65),
    (11.105, 9.10), (11.115, 8.75), (11.125, 9.40), (11.135, 9.00), (11.145, 9.25), (11.105, 8.55), (11.115, 9.55),
    (11.125, 8.85), (11.135, 9.15), (11.145, 8.65), (11.105, 9.35), (11.125, 8.45), (11.145, 9.50), (11.115, 9.05),
    (11.155, 8.95), (11.165, 9.35), (11.175, 9.10), (11.185, 8.80), (11.195, 9.45), (11.155, 9.55), (11.165, 8.65),
    (11.175, 9.25), (11.185, 9.65), (11.195, 9.00), (11.165, 8.90), (11.185, 9.15), (11.155, 8.70), (11.195, 9.80),
    (11.205, 9.20), (11.215, 8.90), (11.225, 9.55), (11.235, 9.05), (11.245, 9.40), (11.205, 8.70), (11.215, 9.65),
    (11.225, 8.80), (11.235, 9.30), (11.245, 8.95), (11.205, 9.45), (11.225, 9.15), (11.245, 9.65), (11.215, 8.55),
    (11.255, 9.10), (11.265, 9.45), (11.275, 8.95), (11.285, 9.55), (11.295, 9.15), (11.255, 8.75), (11.265, 9.70),
    (11.275, 9.30), (11.285, 8.85), (11.295, 9.40), (11.265, 9.05), (11.285, 9.20), (11.255, 9.60), (11.295, 8.65),
    (11.305, 9.30), (11.315, 8.95), (11.325, 9.65), (11.335, 9.20), (11.345, 9.50), (11.305, 8.80), (11.315, 9.75),
    (11.325, 9.05), (11.335, 9.40), (11.345, 8.90), (11.305, 9.55), (11.325, 9.25), (11.345, 9.70), (11.315, 9.10),
    (11.355, 9.15), (11.365, 9.55), (11.375, 9.30), (11.385, 9.00), (11.395, 9.65), (11.355, 9.80), (11.365, 8.85),
    (11.375, 9.45), (11.385, 9.75), (11.395, 9.20), (11.365, 9.10), (11.385, 9.35), (11.355, 9.05), (11.395, 9.90),
    (11.405, 9.45), (11.415, 9.15), (11.425, 9.80), (11.435, 9.35), (11.445, 9.65), (11.405, 8.95), (11.415, 9.90),
    (11.425, 9.10), (11.435, 9.55), (11.445, 9.25), (11.405, 9.70), (11.425, 9.45), (11.445, 8.85), (11.415, 9.60),
    (11.455, 9.30), (11.465, 9.65), (11.475, 9.15), (11.485, 9.75), (11.495, 9.35), (11.455, 8.95), (11.465, 9.90),
    (11.475, 9.50), (11.485, 9.05), (11.495, 9.60), (11.465, 9.20), (11.485, 9.40), (11.455, 9.80), (11.495, 9.10),
    (11.505, 9.50), (11.515, 9.20), (11.525, 9.85), (11.535, 9.45), (11.545, 9.70), (11.505, 9.05), (11.515, 9.95),
    (11.525, 9.30), (11.535, 9.65), (11.545, 9.15), (11.505, 9.75), (11.525, 9.55), (11.545, 9.95),
    (11.555, 9.60), (11.565, 9.30), (11.575, 9.80), (11.585, 9.50), (11.595, 9.95), (11.555, 9.15), (11.575, 9.65),
    (11.595, 9.40), (11.565, 10.05), (11.585, 9.25),
    (11.605, 9.65), (11.615, 9.40), (11.625, 9.90), (11.635, 9.55), (11.645, 9.80), (11.615, 9.20), (11.635, 10.05),
    (11.645, 9.45), (11.655, 9.70), (11.665, 9.45), (11.675, 9.95), (11.685, 9.65), (11.695, 9.85), (11.665, 9.25),
    (11.685, 10.10), (11.705, 9.75), (11.715, 9.50), (11.725, 9.95), (11.735, 9.70), (11.745, 10.00), (11.755, 9.55),
    (11.765, 9.90), (11.775, 9.75), (11.785, 10.05), (11.795, 9.65),
    (11.805, 9.85), (11.825, 10.00), (11.845, 9.70), (11.865, 10.15), (11.885, 9.90), (11.905, 10.05), (11.925, 9.80),
    (11.945, 10.25), (11.965, 10.10), (11.985, 9.95), (12.005, 10.20), (12.025, 10.35), (12.045, 10.10), (12.065, 10.45),
    (12.085, 10.25), (12.105, 10.60), (12.125, 10.45), (12.145, 10.30), (12.165, 10.70), (12.185, 10.55),
]

panel_sims = [sim_q025_fgas075, sim_q075_fgas075, sim_q090_fgas075,
              sim_q010_fgas040, sim_q010_fgas050, sim_q010_fgas095]
panel_labels = [r"$q=0.25,\ f_{\rm gas}=0.75$", r"$q=0.75,\ f_{\rm gas}=0.75$",
                r"$q=0.90,\ f_{\rm gas}=0.75$", r"$q=0.10,\ f_{\rm gas}=0.40$",
                r"$q=0.10,\ f_{\rm gas}=0.50$", r"$q=0.10,\ f_{\rm gas}=0.95$"]

sim_color = "#8a66a6"
obs_color = "#2b8aa0"

sns.set_style("ticks")
plt.rcParams["font.family"] = ["Liberation Serif", "DejaVu Serif"]
plt.rcParams["mathtext.fontset"] = "stix"

obs_df = pd.DataFrame({"x": obs_x, "y": obs_y})

fig, axes = plt.subplots(2, 3, figsize=(8.3, 5.86), dpi=100, sharex=True, sharey=True)
plt.subplots_adjust(left=0.0675, right=0.982, top=0.9215, bottom=0.0802, wspace=0.217, hspace=0.206)

for i, ax in enumerate(axes.flat):
    sim_df = pd.DataFrame(panel_sims[i], columns=["x", "y"])
    sns.scatterplot(data=sim_df, x="x", y="y", ax=ax, color=sim_color, alpha=0.58,
                    s=15, linewidth=0, legend=False)
    sns.scatterplot(data=obs_df, x="x", y="y", ax=ax, color=obs_color, alpha=0.85,
                    s=32, edgecolor="#111111", linewidth=1.0, legend=False)
    ax.set_xlim(11.0, 12.285)
    ax.set_ylim(7.0, 11.5)
    ax.xaxis.set_major_locator(MultipleLocator(0.25))
    ax.xaxis.set_minor_locator(MultipleLocator(0.05))
    ax.yaxis.set_major_locator(MultipleLocator(0.5))
    ax.yaxis.set_minor_locator(MultipleLocator(0.1))
    ax.xaxis.set_major_formatter(FormatStrFormatter("%.2f"))
    ax.yaxis.set_major_formatter(FormatStrFormatter("%.1f"))
    ax.tick_params(which="both", direction="in", top=True, right=True, labelsize=9)
    ax.tick_params(which="major", length=5, width=0.8)
    ax.tick_params(which="minor", length=2.5, width=0.6)
    ax.tick_params(axis="x", pad=4.5)
    ax.tick_params(axis="y", pad=4)
    for sp in ax.spines.values():
        sp.set_linewidth(0.9)
    ax.text(0.945, 0.138, panel_labels[i], transform=ax.transAxes, ha="right", va="center",
            fontsize=10)
    ax.set_xlabel(r"$\log(M_\star/M_\odot)$" if i >= 3 else "", fontsize=15, labelpad=1)
    ax.set_ylabel(r"$\log(\Delta M/M_\odot)$" if i % 3 == 0 else "", fontsize=14.5, labelpad=0)

handles = [
    Line2D([], [], marker="o", linestyle="", markersize=3.5, markerfacecolor=sim_color,
           markeredgewidth=0, alpha=0.45),
    Line2D([], [], marker="o", linestyle="", markersize=6, markerfacecolor=obs_color,
           markeredgecolor="#111111", markeredgewidth=1.0, alpha=0.85),
]
fig.legend(handles, [r"$f=0.5$", "Observed"], loc="upper center", bbox_to_anchor=(0.5, 1.007),
           ncol=2, fontsize=12, frameon=True, fancybox=True, shadow=True,
           handlelength=1.6, handletextpad=1.0, columnspacing=1.6, borderpad=0.45)

fig.savefig("out.png", dpi=100)
